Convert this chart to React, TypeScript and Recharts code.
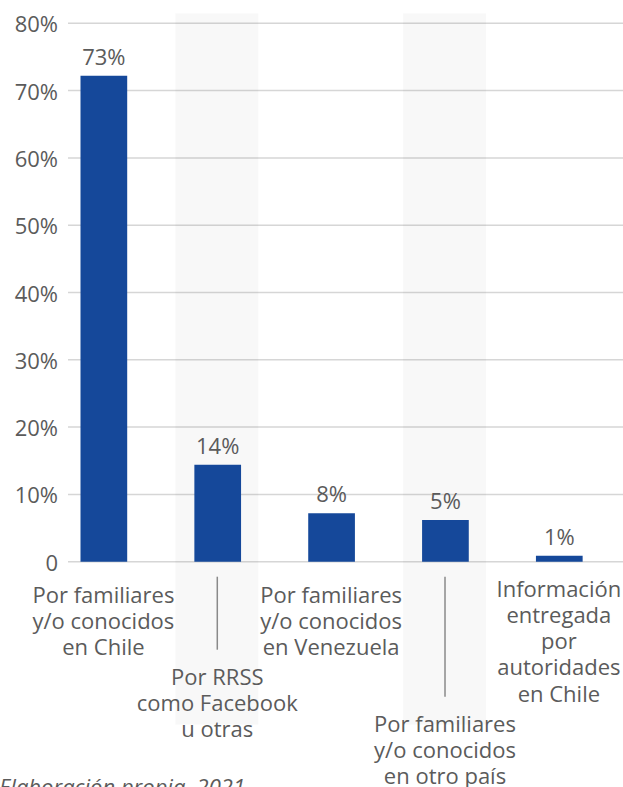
import React from 'react';
import { BarChart, Bar, XAxis, YAxis, CartesianGrid, LabelList } from 'recharts';

// category labels, one entry per text line
const categories = [
  ['Por familiares', 'y/o conocidos', 'en Chile'],
  ['Por RRSS', 'como Facebook', 'u otras'],
  ['Por familiares', 'y/o conocidos', 'en Venezuela'],
  ['Por familiares', 'y/o conocidos', 'en otro país'],
  ['Información', 'entregada', 'por', 'autoridades', 'en Chile'],
];
const values = [72.2, 14.4, 7.2, 6.2, 0.9];
const valueLabels = ['73%', '14%', '8%', '5%', '1%'];
const shaded = [false, true, false, true, false];
const yTicks = [0, 10, 20, 30, 40, 50, 60, 70, 80];

const Y_MAX = 80;
const FONT = '"Open Sans", sans-serif';
const TEXT = '#5b5b5b';
const BLUE = '#15489a';
const GRID = '#d6d6d6';

// extra drop of the staggered labels below the normal row
const DROP = [0, 82, 0, 129, 0];

const data = categories.map((lines, i) => ({
  name: lines.join(' '),
  lines,
  value: values[i],
  label: valueLabels[i],
  bg: shaded[i] ? Y_MAX : 0,
}));

const YTick = (props: any) => {
  const { x, y, payload } = props;
  const v = payload.value;
  return (
    <text x={x + 19.5} y={y} textAnchor="end" dominantBaseline="central" fill={TEXT} fontSize={22} fontFamily={FONT}>
      {v === 0 ? '0' : `${v}%`}
    </text>
  );
};

const XTick = (props: any) => {
  const { x, y, payload } = props;
  const i = data.findIndex((d) => d.name === payload.value);
  if (i < 0) return null;
  const lines = data[i].lines;
  const drop = DROP[i];
  const first = y + 33 + drop - (lines.length > 3 ? 6 : 0);
  return (
    <g>
      {drop > 0 && (
        <line x1={x} x2={x} y1={y + 7} y2={first - 35} stroke="#8a8a8a" strokeWidth={1.5} />
      )}
      {lines.map((l, k) => (
        <text key={k} x={x} y={first + k * 26.2} textAnchor="middle" fill={TEXT} fontSize={22} fontFamily={FONT}>
          {l}
        </text>
      ))}
    </g>
  );
};

const BandShape = (props: any) => {
  const { x, y, width, height, payload } = props;
  if (!payload || !payload.bg) return null;
  return <rect x={x} y={y - 10} width={width} height={height + 10 + 163} fill="rgba(0,0,0,0.026)" />;
};

const GridLine = (props: any) => {
  const { x1, x2, y1, y2 } = props;
  return <line x1={x1 + 21.5} x2={x2 + 7.2} y1={y1} y2={y2} stroke={GRID} strokeWidth={1.5} />;
};

const App: React.FC = () => {
  return (
    <div style={{ position: 'absolute', left: 0, top: 0, width: 623, height: 787, background: '#fff', overflow: 'hidden' }}>
      <BarChart
        width={623}
        height={787}
        data={data}
        margin={{ top: 23.3, right: 7.2, left: 0, bottom: 0 }}
        style={{ fontFamily: FONT }}
      >
        <CartesianGrid vertical={false} horizontal={GridLine} />
        <XAxis xAxisId="bg" dataKey="name" hide />
        <XAxis
          dataKey="name"
          height={225.3}
          axisLine={false}
          tickLine={false}
          interval={0}
          tick={<XTick />}
        />
        <YAxis
          domain={[0, Y_MAX]}
          ticks={yTicks}
          width={46.5}
          axisLine={false}
          tickLine={false}
          tick={<YTick />}
        />
        <Bar xAxisId="bg" dataKey="bg" barSize={83} shape={<BandShape />} isAnimationActive={false} />
        <Bar dataKey="value" fill={BLUE} barSize={46.7} isAnimationActive={false}>
          <LabelList dataKey="label" position="top" offset={11} fill={TEXT} fontSize={22} fontFamily={FONT} />
        </Bar>
      </BarChart>
      <svg width={623} height={787} style={{ position: 'absolute', left: 0, top: 0, pointerEvents: 'none' }}>
        <text x={-1} y={795} fill={TEXT} fontSize={22} fontStyle="italic" fontFamily={FONT}>
          Elaboración propia, 2021
        </text>
      </svg>
    </div>
  );
};

export default App;
